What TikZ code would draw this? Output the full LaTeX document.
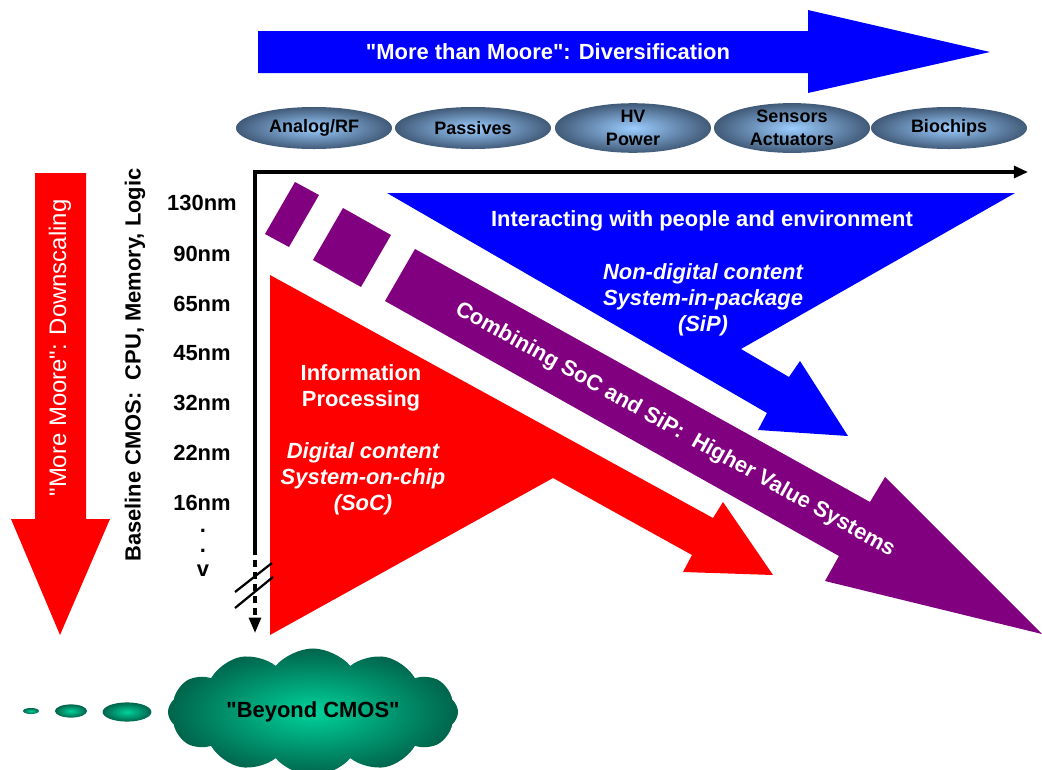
\documentclass[tikz,border=0pt]{standalone}
\usepackage{fontspec}
\setmainfont{Liberation Sans}[Ligatures=TeXOff]
\usetikzlibrary{arrows.meta,shapes.geometric,shapes.symbols,positioning,calc}

\definecolor{mmblue}{RGB}{0,0,255}
\definecolor{mmred}{RGB}{255,0,0}
\definecolor{mmpurple}{RGB}{128,0,128}
\definecolor{techlight}{RGB}{155,205,255}
\definecolor{techdark}{RGB}{65,90,120}
\definecolor{cloudlight}{RGB}{0,210,155}
\definecolor{clouddark}{RGB}{0,100,75}

\begin{document}
\begin{tikzpicture}[x=0.025cm, y=-0.025cm,
    txt/.style={font=\fontsize{15.6}{18.5}\selectfont\bfseries, align=center, inner sep=0pt},
    wtxt/.style={txt, text=white},
    itxt/.style={wtxt, font=\fontsize{15.6}{18.5}\selectfont\bfseries\itshape},
    tech/.style={ellipse, minimum width=3.9cm, minimum height=1.05cm, inner sep=0pt, align=center,
        inner color=techlight, outer color=techdark, font=\fontsize{12.8}{16}\selectfont\bfseries},
    bubble/.style={ellipse, inner sep=0pt, inner color=cloudlight, outer color=clouddark},
    axis/.style={line width=2.2pt, line join=miter},
    brk/.style={line width=1.6pt}
]
\useasboundingbox (0,0) rectangle (1042,770);

% big arrows
\fill[mmblue] (258,31) -- (808,31) -- (808,10) -- (990,52) -- (808,93) -- (808,73) -- (258,73) -- cycle;
\fill[mmred] (35,173) -- (86,173) -- (86,519) -- (110,519) -- (60,635) -- (11,519) -- (35,519) -- cycle;

\node[wtxt] (diversif) at (548,52) {"More than Moore": Diversification};
\node[text=white, inner sep=0pt, rotate=90, font=\fontsize{17}{20}\selectfont] (downsc) at (60,348) {"More Moore": Downscaling};

% technologies
\node[tech] (analog) at (314,128) {Analog/RF};
\node[tech] (passives) at (473,128) {Passives};
\node[tech] (hvpower) at (633,128) {HV\\Power};
\node[tech] (sensors) at (792,128) {Sensors\\Actuators};
\node[tech] (biochips) at (949,128) {Biochips};

% regions
\fill[mmblue] (387,193) -- (1015,193) -- (741,349) -- (789,377) -- (800,361) -- (848,436) -- (758,430) -- (767,413) -- cycle;
\fill[mmpurple] (295,182) -- (319,195) -- (289,247) -- (265,234) -- cycle;
\fill[mmpurple] (343,208) -- (391,235) -- (361,287) -- (313,260) -- cycle;
\fill[mmpurple] (415,249) -- (870,502) -- (885,477) -- (1042,634) -- (825,581) -- (839,556) -- (385,301) -- cycle;
\fill[mmred] (270,275) -- (713,518) -- (723,502) -- (773,575) -- (683,572) -- (692,555) -- (553,478) -- (270,635) -- cycle;

\node[wtxt] (interact) at (702,221) {Interacting with people and environment};
\node[itxt] (sip) at (703,300) {Non-digital content\\System-in-package\\(SiP)};
\node[wtxt, rotate=-29.2] (combine) at (675,430) {Combining SoC and SiP:~~Higher Value Systems};
\node[wtxt] (info) at (361,388) {Information\\Processing};
\node[itxt] (soc) at (363,479) {Digital content\\System-on-chip\\(SoC)};

% axes
\coordinate (org) at (255,172);
\coordinate (xend) at (1028,172);
\coordinate (ybrk) at (255,548);
\coordinate (yend) at (255,633);
\draw[axis, -{Triangle[length=10pt, width=8.5pt]}] (ybrk) -- (org) -- (xend);
\draw[axis, dash pattern=on 5pt off 3.5pt, -{Triangle[length=11pt, width=8.5pt]}] (ybrk) -- (yend);
\draw[brk] (235,592) -- (272,563);
\draw[brk] (235,608) -- (273,577);

% nodes
\node[txt, rotate=90] (baseline) at (135,365) {Baseline CMOS:~~CPU, Memory, Logic};
\node[txt] (n130) at (202,203) {130nm};
\node[txt] (n90) at (202,254) {90nm};
\node[txt] (n65) at (202,304) {65nm};
\node[txt] (n45) at (202,353) {45nm};
\node[txt] (n32) at (202,403) {32nm};
\node[txt] (n22) at (202,453) {22nm};
\node[txt] (n16) at (202,503) {16nm};
\node[txt, anchor=base] (dota) at (203,532) {.};
\node[txt, anchor=base] (dotb) at (203,552) {.};
\node[txt, anchor=base] (dotv) at (203,576) {v};

% beyond CMOS
\node[bubble, minimum width=0.4cm, minimum height=0.15cm] (bub1) at (31,711) {};
\node[bubble, minimum width=0.8cm, minimum height=0.33cm] (bub2) at (71,711) {};
\node[bubble, minimum width=1.22cm, minimum height=0.48cm] (bub3) at (127,712) {};
\node[cloud, cloud puffs=12, cloud puff arc=100, aspect=2.6, minimum width=7.25cm, minimum height=2.7cm,
    inner color=cloudlight, outer color=clouddark, font=\fontsize{15.6}{18.5}\selectfont\bfseries] (beyond) at (313,712) {"Beyond CMOS"};
\end{tikzpicture}
\end{document}
